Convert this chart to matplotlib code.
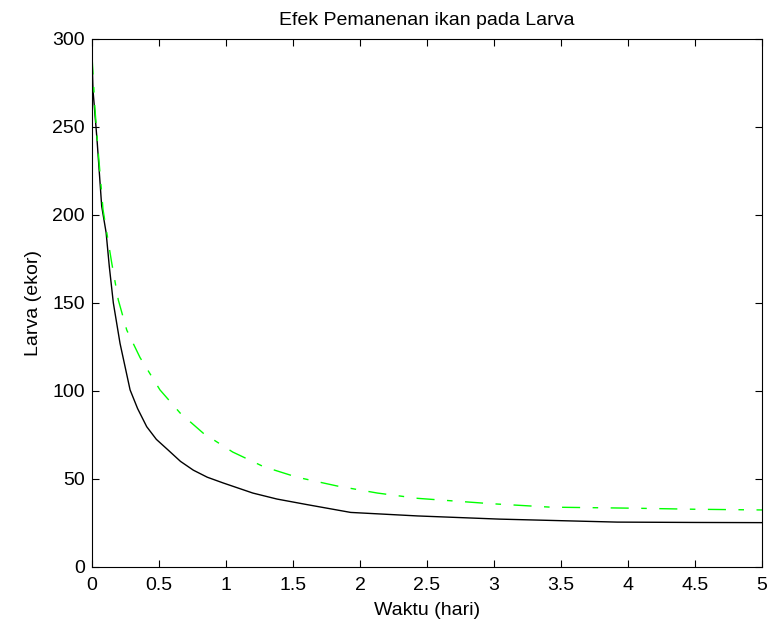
import numpy as np
import matplotlib
matplotlib.use("Agg")
import matplotlib.pyplot as plt

# black solid curve
t_black = [0, 0.007, 0.037, 0.072, 0.105, 0.129, 0.159, 0.209, 0.284, 0.34,
           0.408, 0.48, 0.567, 0.66, 0.756, 0.86, 0.98, 1.2, 1.38, 1.6,
           1.93, 2.43, 3.04, 3.66, 3.92, 4.5, 5.0]
larva_black = [290, 271, 243, 205, 190, 170.6, 150, 127, 100.6, 90,
               79.7, 72.5, 66.5, 60, 55, 51, 47.7, 42, 38.6, 35.5,
               31, 29, 27.2, 26, 25.5, 25.3, 25.2]

# green dash-dot curve
t_green = [0, 0.022, 0.045, 0.082, 0.11, 0.147, 0.196, 0.259, 0.358, 0.507,
           0.657, 0.83, 1.05, 1.28, 1.53, 1.83, 2.13, 2.43, 2.97, 3.42,
           4.04, 4.5, 5.0]
larva_green = [290, 260, 237, 203, 190, 172.7, 151.7, 134.6, 119, 100.6,
               87.5, 76, 65.3, 57, 51, 46, 42, 39, 36, 34,
               33.4, 32.8, 32.4]

x_ticks = np.arange(0, 5.01, 0.5)
x_labels = ["0", "0.5", "1", "1.5", "2", "2.5", "3", "3.5", "4", "4.5", "5"]
y_ticks = [0, 50, 100, 150, 200, 250, 300]

plt.rcParams["font.family"] = ["Liberation Sans", "DejaVu Sans"]
plt.rcParams["font.size"] = 14

fig = plt.figure(figsize=(7.76, 6.27), dpi=100)
ax = fig.add_axes([0.1186, 0.0957, 0.8634, 0.8423])

ax.plot(t_black, larva_black, color="black", lw=1.0)
ax.plot(t_green, larva_green, color="#00ff00", lw=1.0,
        linestyle=(0, (13, 9, 4, 9)))

ax.set_xlim(0, 5)
ax.set_ylim(0, 300)
ax.set_xticks(x_ticks)
ax.set_xticklabels(x_labels)
ax.set_yticks(y_ticks)
ax.tick_params(direction="in", length=5, width=0.8, top=True, right=True,
               labelsize=14)
ax.tick_params(axis="x", pad=7)
ax.tick_params(axis="y", pad=5)
for s in ax.spines.values():
    s.set_linewidth(0.8)

ax.set_title("Efek Pemanenan ikan pada Larva", fontsize=14, pad=10)
ax.set_xlabel("Waktu (hari)", fontsize=14, labelpad=6)
ax.set_ylabel("Larva (ekor)", fontsize=14, labelpad=7.5)

fig.savefig("out.png", dpi=100)
